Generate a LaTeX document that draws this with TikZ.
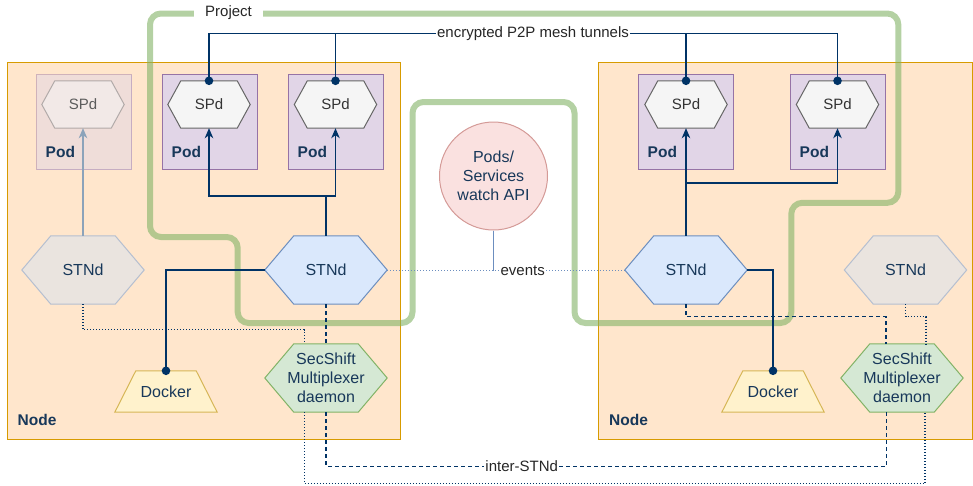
\documentclass[tikz,border=0pt]{standalone}
\usepackage{fontspec}
\setmainfont{Liberation Sans}
\usetikzlibrary{arrows.meta,calc}

\definecolor{nodefill}{HTML}{FFE6CC}
\definecolor{nodeline}{HTML}{D79B00}
\definecolor{podfill}{HTML}{E1D5E7}
\definecolor{podline}{HTML}{9673A6}
\definecolor{spdfill}{HTML}{F5F5F5}
\definecolor{spdline}{HTML}{666666}
\definecolor{spdink}{HTML}{333333}
\definecolor{stnfill}{HTML}{DAE8FC}
\definecolor{stnline}{HTML}{6C8EBF}
\definecolor{idlefill}{HTML}{EAE4DF}
\definecolor{idleline}{HTML}{B5BFD0}
\definecolor{secfill}{HTML}{D5E8D4}
\definecolor{secline}{HTML}{82B366}
\definecolor{dockfill}{HTML}{FFF2CC}
\definecolor{dockline}{HTML}{D6B656}
\definecolor{apifill}{HTML}{FAE1E0}
\definecolor{apiline}{HTML}{D49A97}
\definecolor{navy}{HTML}{003366}
\definecolor{ink}{HTML}{18385A}
\definecolor{projgreen}{HTML}{82B366}

\pgfdeclarelayer{boxes}
\pgfdeclarelayer{project}
\pgfdeclarelayer{shapes}
\pgfdeclarelayer{labels}
\pgfsetlayers{boxes,project,shapes,main,labels}

% hexagon outline around a (rectangular, invisible) node
\newcommand\hexpath[3]{%
  \path[#3] (#1.west) -- ([xshift=#2]#1.north west) -- ([xshift=-#2]#1.north east)
    -- (#1.east) -- ([xshift=-#2]#1.south east) -- ([xshift=#2]#1.south west) -- cycle;}
% trapezoid outline (narrow top) around a node
\newcommand\trappath[3]{%
  \path[#3] (#1.south west) -- ([xshift=#2]#1.north west) -- ([xshift=-#2]#1.north east)
    -- (#1.south east) -- cycle;}

\tikzset{
  nodebox/.style={draw=nodeline, fill=nodefill, line width=1.3pt, minimum height=377pt,
    inner sep=0pt, anchor=north west},
  podbox/.style={draw=podline, fill=podfill, line width=1.1pt, minimum width=95pt,
    minimum height=95pt, inner sep=0pt, anchor=north west},
  boldlbl/.style={inner sep=0pt, anchor=west, text=ink, font=\fontsize{15.5}{18}\selectfont\bfseries},
  spdtext/.style={inner sep=0pt, minimum width=82pt, minimum height=47pt, text=spdink,
    font=\fontsize{15}{18}\selectfont},
  shapetext/.style={inner sep=0pt, text=ink, align=center, font=\fontsize{16}{19}\selectfont},
  hexbig/.style={shapetext, minimum width=122pt, minimum height=68pt},
  dockbox/.style={shapetext, minimum width=102pt, minimum height=41pt},
  lbl/.style={fill=white, inner xsep=1.5pt, inner ysep=1pt, text=black!85,
    font=\fontsize{15}{18}\selectfont},
  link/.style={draw=navy, line width=1.3pt},
  flow/.style={link, -{Stealth[length=10pt, width=8.5pt, inset=3pt]}},
  flowfaded/.style={draw=navy!45, line width=1.3pt, -{Stealth[length=10pt, width=8.5pt, inset=3pt]}},
  tunnel/.style={draw=navy, line width=1.3pt, dash pattern=on 4pt off 3pt},
  dotline/.style={draw=navy, line width=1.2pt, dash pattern=on 1pt off 2pt},
  eventline/.style={draw=stnline, line width=1pt, dash pattern=on 1pt off 2pt},
  project/.style={draw=projgreen, draw opacity=0.6, line width=6pt, rounded corners=11pt},
}

\begin{document}
\begin{tikzpicture}[x=1pt, y=-1pt]
\useasboundingbox (0,0) rectangle (973,485);

% ---- hosts and pods ----
\begin{pgfonlayer}{boxes}
  \node[nodebox, minimum width=393pt] (hostL) at (7,62) {};
  \node[nodebox, minimum width=374pt] (hostR) at (598,62) {};
  \node[podbox, draw opacity=0.45, fill opacity=0.5] (podA) at (36,74) {};
  \node[podbox] (podB) at (162,74) {};
  \node[podbox] (podC) at (288,74) {};
  \node[podbox] (podD) at (638,74) {};
  \node[podbox] (podE) at (790,74) {};
\end{pgfonlayer}

\node[boldlbl] (hostLname) at (17.5,420) {Node};
\node[boldlbl] (hostRname) at (609,420) {Node};
\foreach \p in {podA,podB,podC,podD,podE}{
  \node[boldlbl] (\p name) at ($(\p.south west)+(9.5,-18)$) {Pod};
}

% ---- project boundary ----
\begin{pgfonlayer}{project}
  \draw[project] (300,323) -- (412.5,323) -- (412.5,102) -- (574.5,102) -- (574.5,323)
    -- (791.3,323) -- (791.3,202.8) -- (898.3,202.8) -- (898.3,13.5) -- (150,13.5)
    -- (150,237) -- (237.7,237) -- (237.7,323) -- cycle;
\end{pgfonlayer}

% ---- sidecar proxies ----
\node[spdtext, text=spdink!80] (spdA) at (83,104.5) {SPd};
\node[spdtext] (spdB) at (209,104.5) {SPd};
\node[spdtext] (spdC) at (335.5,104.5) {SPd};
\node[spdtext] (spdD) at (686,104.5) {SPd};
\node[spdtext] (spdE) at (837.5,104.5) {SPd};

% ---- STNd, multiplexers, docker, API ----
\node[hexbig] (stnGL) at (83,270) {STNd};
\node[hexbig] (stnL) at (326,270) {STNd};
\node[hexbig] (stnR) at (686,270) {STNd};
\node[hexbig] (stnGR) at (905.5,270) {STNd};
\node[hexbig] (secL) at (326,378) {SecShift\\Multiplexer\\daemon};
\node[hexbig] (secR) at (902,378) {SecShift\\Multiplexer\\daemon};
\node[dockbox] (dockL) at (166,391.5) {Docker};
\node[dockbox] (dockR) at (773,391.5) {Docker};
\node[shapetext, circle, draw=apiline, fill=apifill, line width=1pt, minimum size=108pt]
  (api) at (493.5,176) {Pods/\\Services\\watch API};

\begin{pgfonlayer}{shapes}
  \hexpath{spdA}{13pt}{draw=spdline, fill=spdfill, draw opacity=0.45, fill opacity=0.5, line width=1pt}
  \hexpath{spdB}{13pt}{draw=spdline, fill=spdfill, line width=1pt}
  \hexpath{spdC}{13pt}{draw=spdline, fill=spdfill, line width=1pt}
  \hexpath{spdD}{13pt}{draw=spdline, fill=spdfill, line width=1pt}
  \hexpath{spdE}{13pt}{draw=spdline, fill=spdfill, line width=1pt}
  \hexpath{stnGL}{29pt}{draw=idleline, fill=idlefill, line width=1pt}
  \hexpath{stnGR}{29pt}{draw=idleline, fill=idlefill, line width=1pt}
  \hexpath{stnL}{29pt}{draw=stnline, fill=stnfill, line width=1pt}
  \hexpath{stnR}{29pt}{draw=stnline, fill=stnfill, line width=1pt}
  \hexpath{secL}{29pt}{draw=secline, fill=secfill, line width=1pt}
  \hexpath{secR}{29pt}{draw=secline, fill=secfill, line width=1pt}
  \trappath{dockL}{21pt}{draw=dockline, fill=dockfill, line width=1pt}
  \trappath{dockR}{21pt}{draw=dockline, fill=dockfill, line width=1pt}
\end{pgfonlayer}

% ---- text labels on connectors ----
\begin{pgfonlayer}{labels}
  \node[lbl, inner xsep=11pt] (proj) at (228.5,12.5) {Project};
  \node[lbl] (mesh) at (533,33.7) {encrypted P2P mesh tunnels};
  \node[lbl] (ev) at (522.7,270.5) {events};
  \node[lbl] (inter) at (521.7,466) {inter-STNd};
\end{pgfonlayer}

% ---- encrypted mesh between proxies ----
\draw[link] (spdB.north) -- (spdB.north |- mesh.center) -- (spdE.north |- mesh.center) -- (spdE.north);
\draw[link] (spdC.north) -- (spdC.north |- mesh.center);
\draw[link] (spdD.north) -- (spdD.north |- mesh.center);
\foreach \s in {spdB,spdC,spdD,spdE}{
  \fill[navy] (\s.north) circle[radius=4.3pt];
}

% ---- STNd configures proxies ----
\coordinate (jL) at (326,196);
\coordinate (jR) at (686,183);
\draw[flow] (stnL.north) -- (jL) -| (spdB.south);
\draw[flow] (jL) -| (spdC.south);
\draw[flow] (stnR.north) -- (spdD.south);
\draw[flow] (jR) -| (spdE.south);
\draw[flowfaded] (stnGL.north) -- (spdA.south);

% ---- STNd to docker ----
\draw[link] (stnL.west) -| (dockL.north);
\draw[link] (stnR.east) -| (dockR.north);
\fill[navy] (dockL.north) circle[radius=4.3pt];
\fill[navy] (dockR.north) circle[radius=4.3pt];

% ---- watch API events ----
\draw[eventline] (stnL.east) -- (stnR.west);
\draw[draw=stnline, line width=0.9pt] (api.south) -- (api.south |- ev.center);

% ---- inter-STNd traffic through the multiplexers ----
\draw[tunnel] (stnL.south) -- (secL.north);
\draw[tunnel] (secL.south) |- ($(secR.south)+(-15.5,54)$) -- ($(secR.south)+(-15.5,0)$);
\draw[tunnel] (stnR.south) |- ($(secR.north)+(-16,-27)$) -- ($(secR.north)+(-16,0)$);

\draw[dotline] (stnGL.south) |- ($(secL.north)+(-21.7,-14)$) -- ($(secL.north)+(-21.7,0)$);
\draw[dotline] ($(secL.south)+(-21.7,0)$) |- ($(secR.south)+(23,71.5)$) -- ($(secR.south)+(23,0)$);
\draw[dotline] (stnGR.south) |- ($(secR.north)+(24,-27)$) -- ($(secR.north)+(24,0)$);
\end{tikzpicture}
\end{document}
